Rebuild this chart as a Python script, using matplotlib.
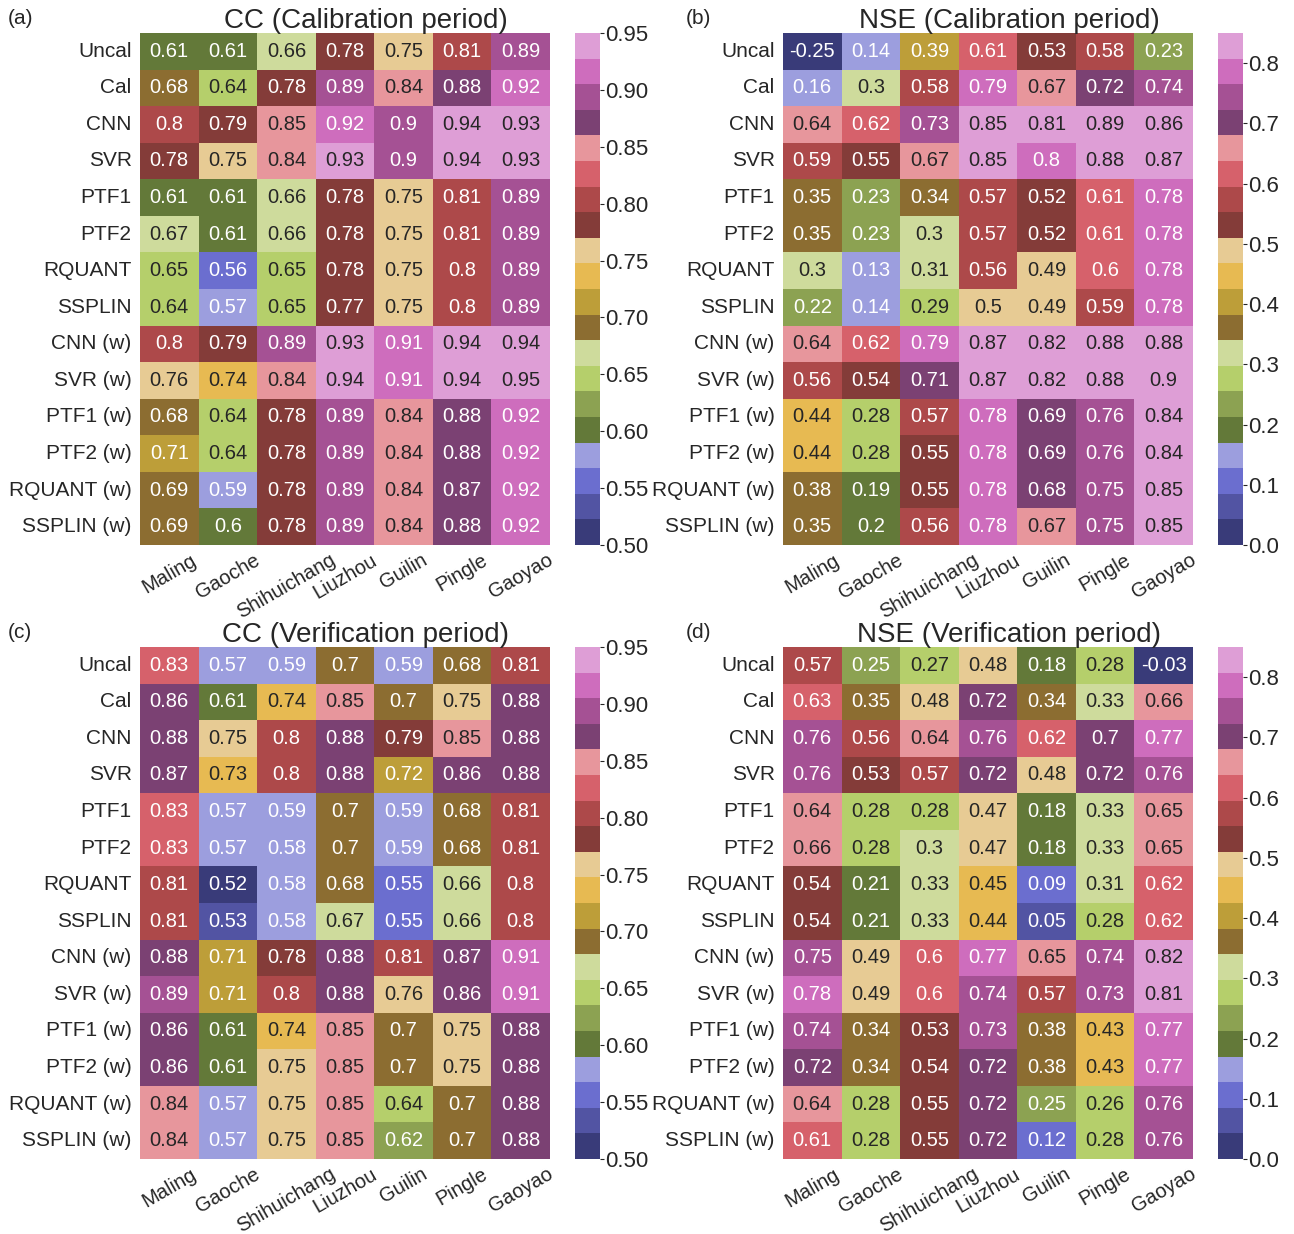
import numpy as np
import matplotlib
matplotlib.use("Agg")
import matplotlib.pyplot as plt
import seaborn as sns

plt.rcParams['font.family'] = ['Liberation Sans', 'DejaVu Sans']

stations = ["Maling", "Gaoche", "Shihuichang", "Liuzhou", "Guilin", "Pingle", "Gaoyao"]
methods = ["Uncal", "Cal", "CNN", "SVR", "PTF1", "PTF2", "RQUANT", "SSPLIN",
           "CNN (w)", "SVR (w)", "PTF1 (w)", "PTF2 (w)", "RQUANT (w)", "SSPLIN (w)"]

cc_cal = [
    [0.61, 0.61, 0.66, 0.78, 0.75, 0.81, 0.89],
    [0.68, 0.64, 0.78, 0.89, 0.84, 0.88, 0.92],
    [0.8, 0.79, 0.85, 0.92, 0.9, 0.94, 0.93],
    [0.78, 0.75, 0.84, 0.93, 0.9, 0.94, 0.93],
    [0.61, 0.61, 0.66, 0.78, 0.75, 0.81, 0.89],
    [0.67, 0.61, 0.66, 0.78, 0.75, 0.81, 0.89],
    [0.65, 0.56, 0.65, 0.78, 0.75, 0.8, 0.89],
    [0.64, 0.57, 0.65, 0.77, 0.75, 0.8, 0.89],
    [0.8, 0.79, 0.89, 0.93, 0.91, 0.94, 0.94],
    [0.76, 0.74, 0.84, 0.94, 0.91, 0.94, 0.95],
    [0.68, 0.64, 0.78, 0.89, 0.84, 0.88, 0.92],
    [0.71, 0.64, 0.78, 0.89, 0.84, 0.88, 0.92],
    [0.69, 0.59, 0.78, 0.89, 0.84, 0.87, 0.92],
    [0.69, 0.6, 0.78, 0.89, 0.84, 0.88, 0.92],
]

nse_cal = [
    [-0.25, 0.14, 0.39, 0.61, 0.53, 0.58, 0.23],
    [0.16, 0.3, 0.58, 0.79, 0.67, 0.72, 0.74],
    [0.64, 0.62, 0.73, 0.85, 0.81, 0.89, 0.86],
    [0.59, 0.55, 0.67, 0.85, 0.8, 0.88, 0.87],
    [0.35, 0.23, 0.34, 0.57, 0.52, 0.61, 0.78],
    [0.35, 0.23, 0.3, 0.57, 0.52, 0.61, 0.78],
    [0.3, 0.13, 0.31, 0.56, 0.49, 0.6, 0.78],
    [0.22, 0.14, 0.29, 0.5, 0.49, 0.59, 0.78],
    [0.64, 0.62, 0.79, 0.87, 0.82, 0.88, 0.88],
    [0.56, 0.54, 0.71, 0.87, 0.82, 0.88, 0.9],
    [0.44, 0.28, 0.57, 0.78, 0.69, 0.76, 0.84],
    [0.44, 0.28, 0.55, 0.78, 0.69, 0.76, 0.84],
    [0.38, 0.19, 0.55, 0.78, 0.68, 0.75, 0.85],
    [0.35, 0.2, 0.56, 0.78, 0.67, 0.75, 0.85],
]

cc_ver = [
    [0.83, 0.57, 0.59, 0.7, 0.59, 0.68, 0.81],
    [0.86, 0.61, 0.74, 0.85, 0.7, 0.75, 0.88],
    [0.88, 0.75, 0.8, 0.88, 0.79, 0.85, 0.88],
    [0.87, 0.73, 0.8, 0.88, 0.72, 0.86, 0.88],
    [0.83, 0.57, 0.59, 0.7, 0.59, 0.68, 0.81],
    [0.83, 0.57, 0.58, 0.7, 0.59, 0.68, 0.81],
    [0.81, 0.52, 0.58, 0.68, 0.55, 0.66, 0.8],
    [0.81, 0.53, 0.58, 0.67, 0.55, 0.66, 0.8],
    [0.88, 0.71, 0.78, 0.88, 0.81, 0.87, 0.91],
    [0.89, 0.71, 0.8, 0.88, 0.76, 0.86, 0.91],
    [0.86, 0.61, 0.74, 0.85, 0.7, 0.75, 0.88],
    [0.86, 0.61, 0.75, 0.85, 0.7, 0.75, 0.88],
    [0.84, 0.57, 0.75, 0.85, 0.64, 0.7, 0.88],
    [0.84, 0.57, 0.75, 0.85, 0.62, 0.7, 0.88],
]

nse_ver = [
    [0.57, 0.25, 0.27, 0.48, 0.18, 0.28, -0.03],
    [0.63, 0.35, 0.48, 0.72, 0.34, 0.33, 0.66],
    [0.76, 0.56, 0.64, 0.76, 0.62, 0.7, 0.77],
    [0.76, 0.53, 0.57, 0.72, 0.48, 0.72, 0.76],
    [0.64, 0.28, 0.28, 0.47, 0.18, 0.33, 0.65],
    [0.66, 0.28, 0.3, 0.47, 0.18, 0.33, 0.65],
    [0.54, 0.21, 0.33, 0.45, 0.09, 0.31, 0.62],
    [0.54, 0.21, 0.33, 0.44, 0.05, 0.28, 0.62],
    [0.75, 0.49, 0.6, 0.77, 0.65, 0.74, 0.82],
    [0.78, 0.49, 0.6, 0.74, 0.57, 0.73, 0.81],
    [0.74, 0.34, 0.53, 0.73, 0.38, 0.43, 0.77],
    [0.72, 0.34, 0.54, 0.72, 0.38, 0.43, 0.77],
    [0.64, 0.28, 0.55, 0.72, 0.25, 0.26, 0.76],
    [0.61, 0.28, 0.55, 0.72, 0.12, 0.28, 0.76],
]

W, H = 1294, 1234
fig = plt.figure(figsize=(W / 100, H / 100), dpi=100)

def fx(px):
    return px / W

def fy(py):
    return 1 - py / H

panels = [
    ("(a)", "CC (Calibration period)", cc_cal, 0.50, 0.95, [0.50, 0.55, 0.60, 0.65, 0.70, 0.75, 0.80, 0.85, 0.90, 0.95], "{:.2f}", 0, 0),
    ("(b)", "NSE (Calibration period)", nse_cal, 0.0, 0.85, [0.0, 0.1, 0.2, 0.3, 0.4, 0.5, 0.6, 0.7, 0.8], "{:.1f}", 643, 0),
    ("(c)", "CC (Verification period)", cc_ver, 0.50, 0.95, [0.50, 0.55, 0.60, 0.65, 0.70, 0.75, 0.80, 0.85, 0.90, 0.95], "{:.2f}", 0, 614),
    ("(d)", "NSE (Verification period)", nse_ver, 0.0, 0.85, [0.0, 0.1, 0.2, 0.3, 0.4, 0.5, 0.6, 0.7, 0.8], "{:.1f}", 643, 614),
]

for lab, title, data, vmin, vmax, ticks, tfmt, dx, dy in panels:
    x0, x1 = 140 + dx, 550 + dx
    y0, y1 = 33 + dy, 545 + dy
    ax = fig.add_axes([fx(x0), fy(y1), fx(x1 - x0), (y1 - y0) / H])
    cx0, cx1 = 575 + dx, 600 + dx
    cax = fig.add_axes([fx(cx0), fy(y1), fx(cx1 - cx0), (y1 - y0) / H])
    arr = np.array(data)
    sns.heatmap(arr, ax=ax, cbar_ax=cax, cmap="tab20b", vmin=vmin, vmax=vmax,
                annot=True, fmt="g", annot_kws={"fontsize": 14.5},
                xticklabels=stations, yticklabels=methods)
    ax.tick_params(axis='y', length=0, pad=6)
    ax.tick_params(axis='x', length=0, pad=4)
    ax.set_yticklabels(methods, rotation=0, fontsize=15, color='#262626')
    ax.set_xticklabels(stations, rotation=30, ha='center', fontsize=14.5, color='#262626')
    cax.set_yticks(ticks)
    cax.set_yticklabels([tfmt.format(t) for t in ticks], fontsize=16, color='#262626')
    cax.tick_params(length=3, width=0.8, pad=1, colors='#262626')
    lx = 8 if dx == 0 else 686
    fig.text(fx(lx), fy(19 + dy), lab, fontsize=15, va='center', ha='left', color='#262626')
    fig.text(fx(366 + dx), fy(21 + dy), title, fontsize=20, va='center', ha='center', color='#262626')

fig.savefig("out.png", dpi=100, facecolor="white")
